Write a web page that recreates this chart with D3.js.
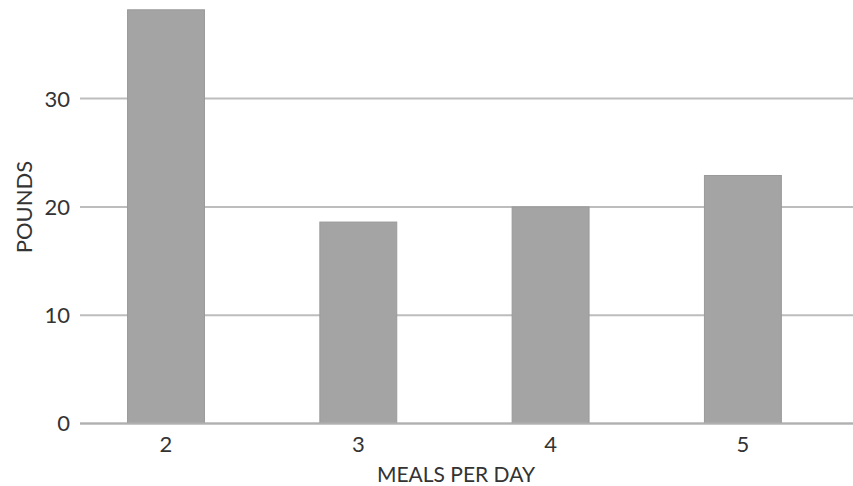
<!DOCTYPE html>
<html>
<head>
<meta charset="utf-8">
<script src="https://cdn.jsdelivr.net/npm/d3@7"></script>
<style>
  html, body { margin: 0; padding: 0; background: #fff; }
  svg { display: block; }
  text { font-family: "Lato", "Open Sans", sans-serif; fill: #333; }
</style>
</head>
<body>
<svg id="chart" width="853" height="486"></svg>
<script>
const categories = ["2", "3", "4", "5"];
const pounds = [38.2, 18.6, 20.0, 22.9];
const yTicks = [0, 10, 20, 30];
const xLabel = "MEALS PER DAY";
const yLabel = "POUNDS";

const svg = d3.select("#chart");

const step = 192.3;
const x = d3.scaleBand()
  .domain(categories)
  .range([166 - step / 2, 166 + step * 3.5])
  .paddingInner(0.6)
  .paddingOuter(0.3);

const y = d3.scaleLinear()
  .domain([0, 10])
  .range([423.5, 315.2]);

const gridLeft = 80, gridRight = 853;

// gridlines
svg.append("g").selectAll("line")
  .data(yTicks)
  .join("line")
  .attr("x1", gridLeft).attr("x2", gridRight)
  .attr("y1", d => y(d)).attr("y2", d => y(d))
  .attr("stroke", "#bdbdbd")
  .attr("stroke-width", 2);

// bars
svg.append("g").selectAll("rect")
  .data(categories.map((c, i) => ({ c, v: pounds[i] })))
  .join("rect")
  .attr("x", d => x(d.c))
  .attr("width", x.bandwidth())
  .attr("y", d => y(d.v))
  .attr("height", d => y(0) - y(d.v))
  .attr("fill", "#a4a4a4")
  .attr("stroke", "#9a9a9a")
  .attr("stroke-width", 1);

// baseline over bars
svg.append("line")
  .attr("x1", gridLeft).attr("x2", gridRight)
  .attr("y1", y(0)).attr("y2", y(0))
  .attr("stroke", "#b0b0b0").attr("stroke-width", 2);

// y tick labels
svg.append("g").selectAll("text")
  .data(yTicks)
  .join("text")
  .attr("x", 70)
  .attr("y", d => y(d))
  .attr("dy", "0.36em")
  .attr("text-anchor", "end")
  .attr("font-size", 22)
  .text(d => d);

// x tick labels
svg.append("g").selectAll("text")
  .data(categories)
  .join("text")
  .attr("x", d => x(d) + x.bandwidth() / 2)
  .attr("y", 452)
  .attr("text-anchor", "middle")
  .attr("font-size", 22)
  .text(d => d);

// axis titles
svg.append("text")
  .attr("x", 456).attr("y", 482)
  .attr("text-anchor", "middle")
  .attr("font-size", 21)
  .text(xLabel);

svg.append("text")
  .attr("transform", "translate(32,207) rotate(-90)")
  .attr("text-anchor", "middle")
  .attr("font-size", 22)
  .text(yLabel);
</script>
</body>
</html>
